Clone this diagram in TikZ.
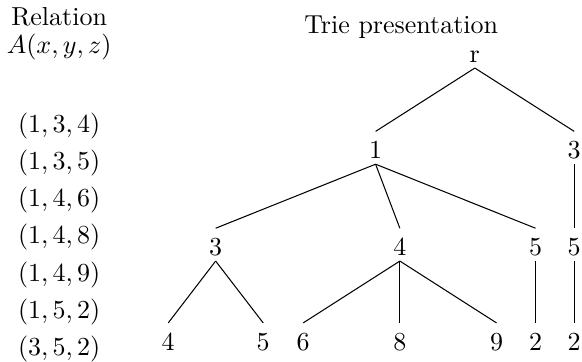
\documentclass[tikz,border=0pt]{standalone}
\usepackage{amsmath,amssymb}
\usepackage{tikz}
\usetikzlibrary{positioning}

\begin{document}
\begin{tikzpicture}[
  vert/.style={anchor=base, inner sep=1.8pt, text height=2ex, text depth=0pt},
  tuple/.style={inner sep=0pt},
  node distance=0.138cm
]
\useasboundingbox (0,0) rectangle (7.87,4.89);
% relation on the left
\node [anchor=base] (rel) at (0.80,4.542) {Relation};
\node [anchor=base] (relA) at (0.80,4.170) {$A(x,y,z)$};
\node [tuple, anchor=base] (t134) at (0.80,3.103) {$(1,3,4)$};
\node [tuple, below=of t134] (t135) {$(1,3,5)$};
\node [tuple, below=of t135] (t146) {$(1,4,6)$};
\node [tuple, below=of t146] (t148) {$(1,4,8)$};
\node [tuple, below=of t148] (t149) {$(1,4,9)$};
\node [tuple, below=of t149] (t152) {$(1,5,2)$};
\node [tuple, below=of t152] (t352) {$(3,5,2)$};

% trie on the right
\node [anchor=base] (trie) at (5.425,4.434) {Trie presentation};
\node [vert] (root) at (6.421,4.04) {r};
\node [vert] (n1) at (5.079,2.74) {1};
\node [vert] (n3) at (7.765,2.74) {3};
\node [vert] (n13) at (2.916,1.43) {3};
\node [vert] (n14) at (5.407,1.43) {4};
\node [vert] (n15) at (7.242,1.43) {5};
\node [vert] (n35) at (7.765,1.43) {5};
\node [vert] (n134) at (2.275,0.15) {4};
\node [vert] (n135) at (3.559,0.15) {5};
\node [vert] (n146) at (4.100,0.15) {6};
\node [vert] (n148) at (5.407,0.15) {8};
\node [vert] (n149) at (6.714,0.15) {9};
\node [vert] (n152) at (7.242,0.15) {2};
\node [vert] (n352) at (7.765,0.15) {2};

\draw (root.south) -- (n1.north);
\draw (root.south) -- (n3.north);
\draw (n1.south) -- (n13.north);
\draw (n1.south) -- (n14.north);
\draw (n1.south) -- (n15.north);
\draw (n3.south) -- (n35.north);
\draw (n13.south) -- (n134.north);
\draw (n13.south) -- (n135.north);
\draw (n14.south) -- (n146.north);
\draw (n14.south) -- (n148.north);
\draw (n14.south) -- (n149.north);
\draw (n15.south) -- (n152.north);
\draw (n35.south) -- (n352.north);
\end{tikzpicture}
\end{document}
